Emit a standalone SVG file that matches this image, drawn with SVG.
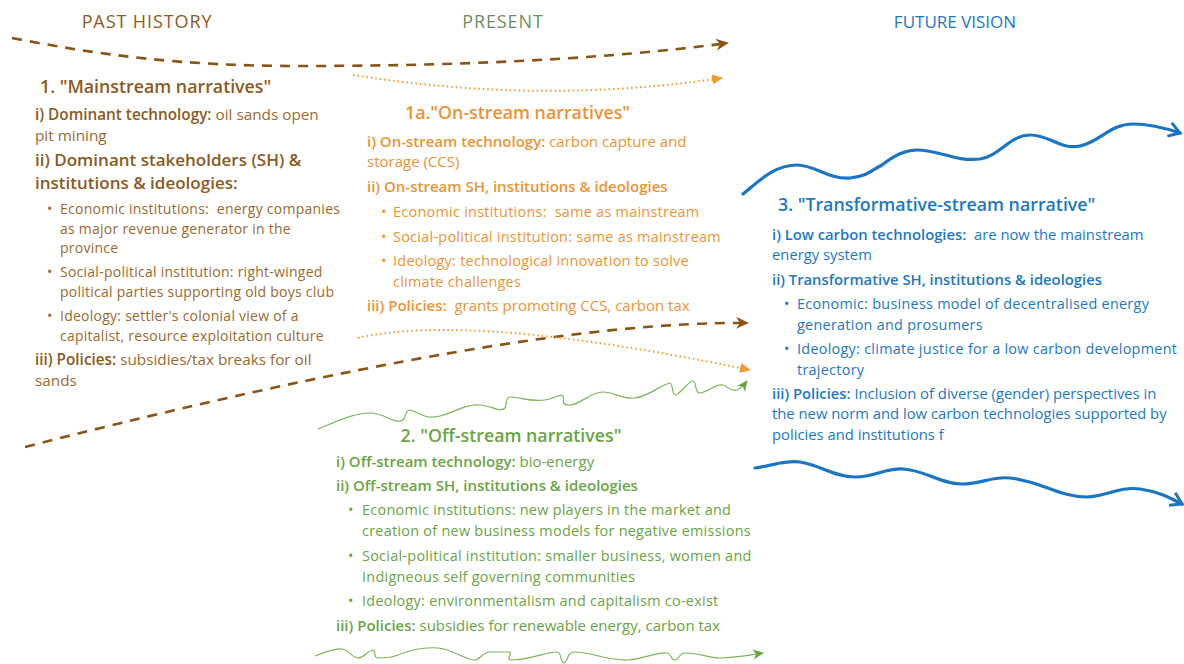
<svg xmlns="http://www.w3.org/2000/svg" width="1184" height="664" viewBox="0 0 1184 664">
<style>
text{font-family:"Open Sans","Noto Sans",sans-serif;white-space:pre;}
.hdr{font-size:18px;letter-spacing:0.9px;}
.ttl{font-size:17.8px;font-weight:600;}
.b{font-size:15px;}
.s{font-size:14.4px;letter-spacing:0.28px;}
#mainstream .b{font-size:15.3px;}
#mainstream .s{font-size:14px;letter-spacing:0.25px;}
#transformative .b{font-size:14.8px;}
.bo{font-weight:600;}
.br{fill:#8c5a1c;}
.brl{fill:#9a6a2e;}
.or{fill:#ec9434;}
.gr{fill:#6aa443;}
.grh{fill:#718b61;}
.bl{fill:#1d78c4;}
.bdash{fill:none;stroke:#8b5412;stroke-width:2.6;stroke-dasharray:10 8;}
.odot{fill:none;stroke:#f39a2c;stroke-width:2;stroke-dasharray:1.5 3;}
.gsq{fill:none;stroke:#7eb35a;stroke-width:1.2;}
.bwav{fill:none;stroke:#1a75c4;stroke-width:3.2;stroke-linecap:round;}
</style>
<defs>
<marker id="mBr" markerUnits="userSpaceOnUse" markerWidth="16" markerHeight="14" refX="12" refY="7" orient="auto"><path d="M0,1 L13,7 L0,13 L4,7 Z" fill="#8b5412"/></marker>
<marker id="mOr" markerUnits="userSpaceOnUse" markerWidth="14" markerHeight="12" refX="10" refY="6" orient="auto"><path d="M0,1 L11,6 L0,11 Z" fill="#f39a2c"/></marker>
<marker id="mGr" markerUnits="userSpaceOnUse" markerWidth="14" markerHeight="12" refX="10" refY="6" orient="auto"><path d="M0,1 L11,6 L0,11 L3,6 Z" fill="#6aa443"/></marker>
<marker id="mBl" markerUnits="userSpaceOnUse" markerWidth="16" markerHeight="16" refX="12" refY="8" orient="auto"><path d="M1,1 L12,8 L1,15" fill="none" stroke="#1a75c4" stroke-width="3"/></marker>
</defs>

<g id="headers">
<text class="hdr br" x="147" y="28" text-anchor="middle">PAST HISTORY</text>
<text class="hdr grh" x="503" y="28" text-anchor="middle">PRESENT</text>
<text class="hdr bl" x="955" y="28" text-anchor="middle" style="font-size:17px;letter-spacing:0">FUTURE VISION</text>
</g>

<g id="connectors">
<path class="bdash" d="M12,38 C100,55 180,66 300,66 C450,66 600,60 728,43" marker-end="url(#mBr)"/>
<path class="odot" d="M353,75 Q540,105 722,78" marker-end="url(#mOr)"/>
<path class="bdash" d="M25,447 Q520,320 748,323" marker-end="url(#mBr)"/>
<path class="odot" d="M358,338 Q470,312 750,370" marker-end="url(#mOr)"/>
<path class="gsq" d="M318,429 C340,420 355,413 370,413 C385,413 395,425 403,420 C406,417 405,410 410,410 C418,412 425,420 440,416 C455,412 465,404 480,405 C492,406 500,413 505,408 C507,405 505,397 510,397 C520,397 530,402 545,400 C555,399 560,393 563,396 C565,400 560,405 570,405 C580,405 590,392 603,392 C615,392 622,400 635,398 C650,396 660,385 670,383 C673,383 672,395 675,395 C680,395 688,381 693,381 C697,381 694,393 700,393 C710,392 715,383 723,385 C728,386 730,392 737,390 C741,389 744,385 747,381" marker-end="url(#mGr)"/>
<path class="gsq" d="M315,656 C325,652 335,648 342,649 C350,650 352,658 358,658 C364,658 368,650 373,650 C376,650 373,658 378,658 C385,658 392,658 398,655 C410,650 425,647 438,648 C455,650 465,660 475,660 C480,660 482,652 490,652 L510,652 C512,655 505,660 512,660 C530,660 545,652 557,652 C562,652 560,663 564,663 C568,663 566,652 575,652 C590,652 610,661 628,660 C645,659 655,652 667,653 C672,654 670,660 675,660 C680,660 678,653 685,653 C700,653 708,658 720,658 C735,658 750,655 763,653" marker-end="url(#mGr)"/>
<path class="bwav" d="M743,194 C760,180 775,165 797,165 C815,165 830,180 850,178 C868,176 872,170 882,165 C895,155 905,150 917,150 C940,150 955,162 980,159 C1000,156 1010,135 1030,135 C1050,135 1060,150 1080,146 C1100,142 1110,124 1133,124 C1150,124 1165,128 1180,133" marker-end="url(#mBl)"/>
<path class="bwav" d="M755,468 C775,465 785,460 800,462 C820,465 835,477 855,477 C875,477 885,468 903,469 C925,470 940,484 962,484 C982,484 992,476 1010,478 C1040,481 1060,497 1087,497 C1105,497 1120,486 1140,489 C1160,492 1170,498 1182,504" marker-end="url(#mBl)"/>
</g>

<g id="mainstream">
<text class="ttl br" x="40" y="93">1. "Mainstream narratives"</text>
<text class="b brl" x="35" y="120"><tspan class="bo br">i) Dominant technology:</tspan> oil sands open</text>
<text class="b brl" x="35" y="141">pit mining</text>
<text class="bo br" x="35" y="166" font-size="17">ii) Dominant stakeholders (SH) &amp;</text>
<text class="bo br" x="35" y="189" font-size="17">institutions &amp; ideologies:</text>
<text class="s brl" x="47" y="214">•</text>
<text class="s brl" x="60" y="214">Economic institutions:  energy companies</text>
<text class="s brl" x="60" y="234">as major revenue generator in the</text>
<text class="s brl" x="60" y="253">province</text>
<text class="s brl" x="47" y="277">•</text>
<text class="s brl" x="60" y="277">Social-political institution: right-winged</text>
<text class="s brl" x="60" y="297">political parties supporting old boys club</text>
<text class="s brl" x="47" y="321">•</text>
<text class="s brl" x="60" y="321">Ideology: settler's colonial view of a</text>
<text class="s brl" x="60" y="341">capitalist, resource exploitation culture</text>
<text class="b brl" x="35" y="365"><tspan class="bo br">iii) Policies:</tspan> subsidies/tax breaks for oil</text>
<text class="b brl" x="35" y="386">sands</text>
</g>

<g id="onstream">
<text class="ttl or" x="405" y="119">1a."On-stream narratives"</text>
<text class="b or" x="367" y="147"><tspan class="bo">i) On-stream technology:</tspan> carbon capture and</text>
<text class="b or" x="367" y="167">storage (CCS)</text>
<text class="b bo or" x="367" y="192">ii) On-stream SH, institutions &amp; ideologies</text>
<text class="s or" x="381" y="217">•</text>
<text class="s or" x="393" y="217">Economic institutions:  same as mainstream</text>
<text class="s or" x="381" y="242">•</text>
<text class="s or" x="393" y="242">Social-political institution: same as mainstream</text>
<text class="s or" x="381" y="266">•</text>
<text class="s or" x="393" y="266">Ideology: technological innovation to solve</text>
<text class="s or" x="393" y="287">climate challenges</text>
<text class="b or" x="367" y="311"><tspan class="bo">iii) Policies:</tspan>  grants promoting CCS, carbon tax</text>
</g>

<g id="offstream">
<text class="ttl gr" x="511" y="442" text-anchor="middle">2. "Off-stream narratives"</text>
<text class="b gr" x="336" y="467"><tspan class="bo">i) Off-stream technology:</tspan> bio-energy</text>
<text class="b bo gr" x="336" y="491">ii) Off-stream SH, institutions &amp; ideologies</text>
<text class="s gr" x="348" y="515">•</text>
<text class="s gr" x="362" y="515">Economic institutions: new players in the market and</text>
<text class="s gr" x="362" y="536">creation of new business models for negative emissions</text>
<text class="s gr" x="348" y="561">•</text>
<text class="s gr" x="362" y="561">Social-political institution: smaller business, women and</text>
<text class="s gr" x="362" y="582">Indigneous self governing communities</text>
<text class="s gr" x="348" y="606">•</text>
<text class="s gr" x="362" y="606">Ideology: environmentalism and capitalism co-exist</text>
<text class="b gr" x="336" y="631"><tspan class="bo">iii) Policies:</tspan> subsidies for renewable energy, carbon tax</text>
</g>

<g id="transformative">
<text class="ttl bl" x="778" y="211">3. "Transformative-stream narrative"</text>
<text class="b bl" x="772" y="240"><tspan class="bo">i) Low carbon technologies:</tspan>  are now the mainstream</text>
<text class="b bl" x="772" y="260">energy system</text>
<text class="b bo bl" x="772" y="285">ii) Transformative SH, institutions &amp; ideologies</text>
<text class="s bl" x="784" y="309">•</text>
<text class="s bl" x="797" y="309">Economic: business model of decentralised energy</text>
<text class="s bl" x="797" y="330">generation and prosumers</text>
<text class="s bl" x="784" y="354">•</text>
<text class="s bl" x="797" y="354">Ideology: climate justice for a low carbon development</text>
<text class="s bl" x="797" y="375">trajectory</text>
<text class="b bl" x="772" y="399"><tspan class="bo">iii) Policies:</tspan> Inclusion of diverse (gender) perspectives in</text>
<text class="b bl" x="772" y="419">the new norm and low carbon technologies supported by</text>
<text class="b bl" x="772" y="440">policies and institutions f</text>
</g>
</svg>
